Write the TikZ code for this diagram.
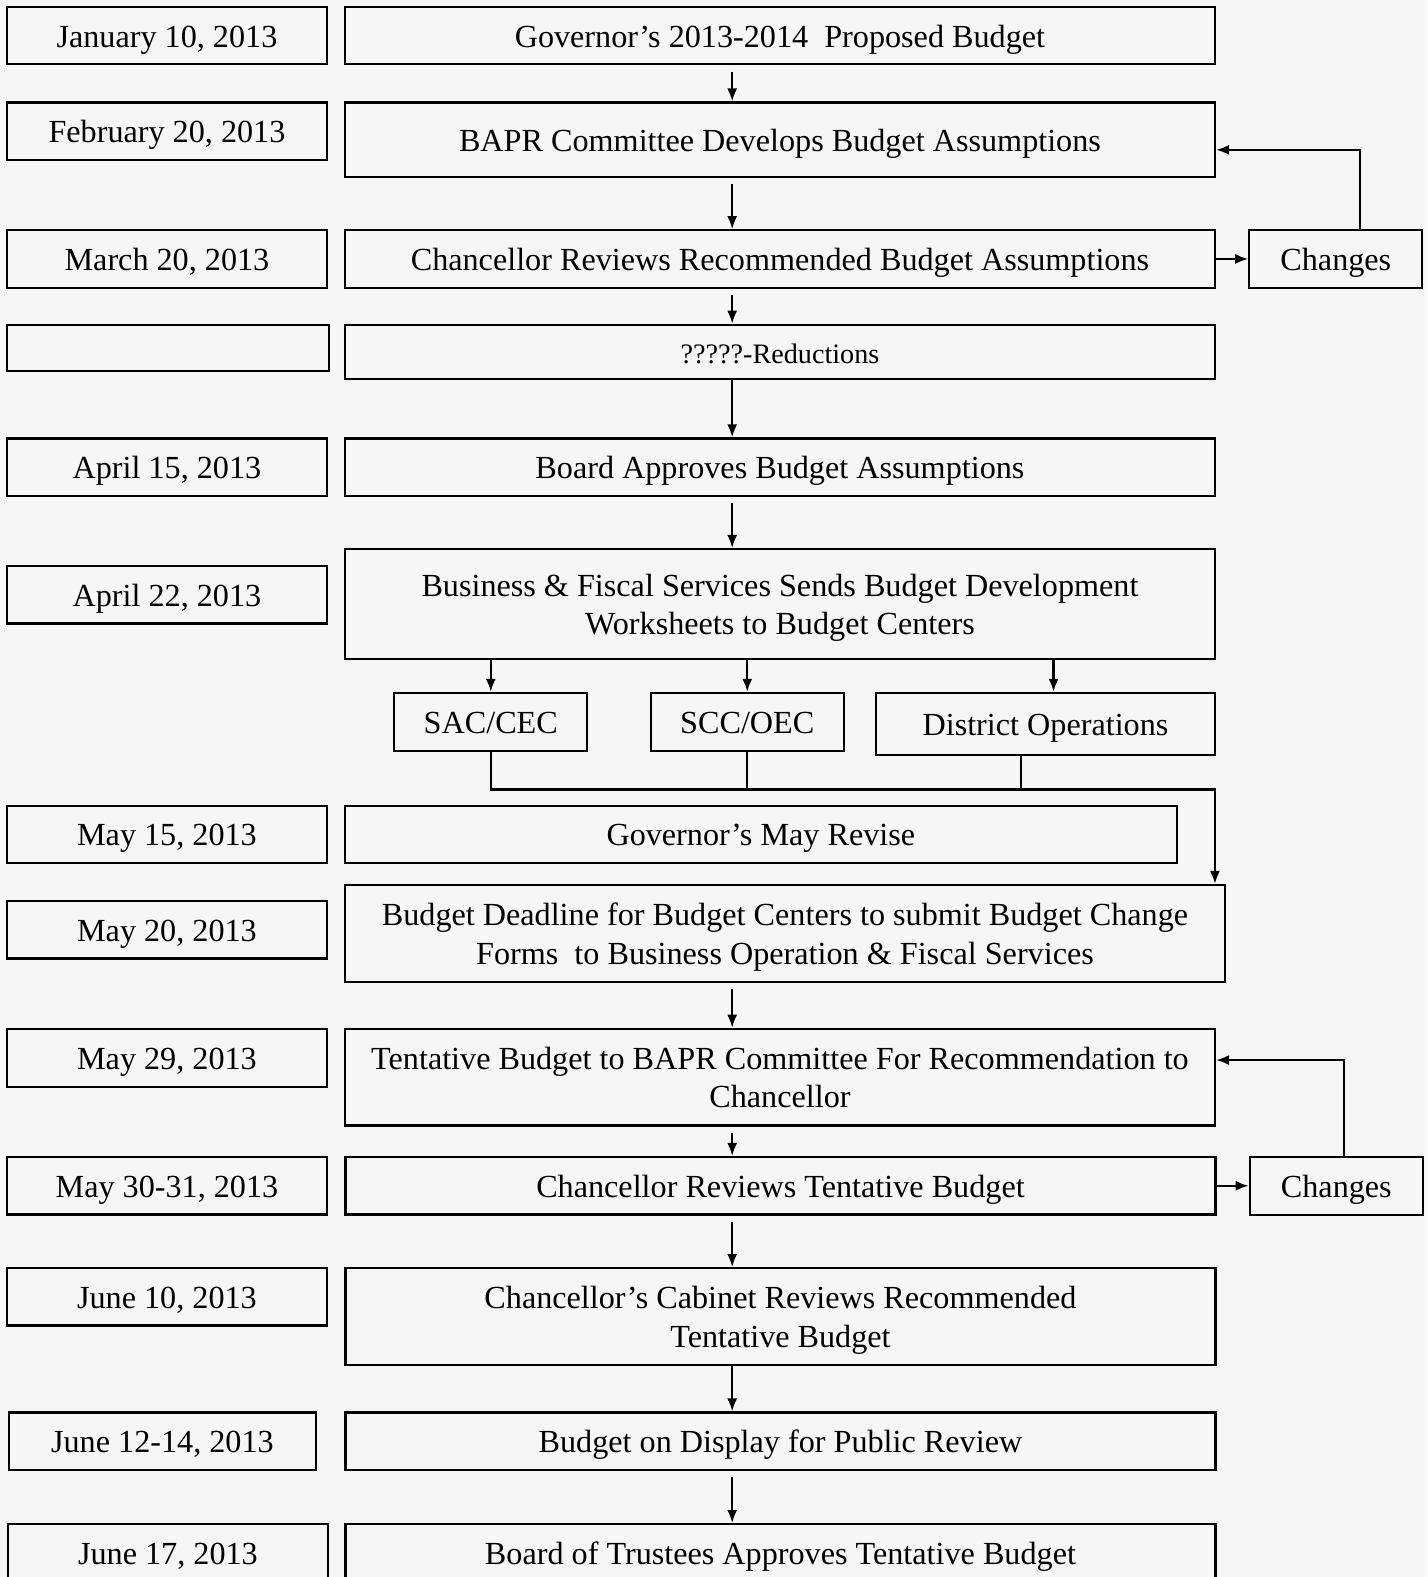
\documentclass[tikz,border=0pt]{standalone}
\usepackage{fontspec}
\setmainfont{Liberation Serif}
\usetikzlibrary{positioning,arrows.meta}
\definecolor{scanPaper}{RGB}{246,246,246}

\begin{document}
\begin{tikzpicture}[
    x=0.5pt, y=-0.5pt,
    line width=1.1pt,
    >={Latex[length=6.5pt,width=5pt]},
    box text/.style={inner sep=0pt, text height=13pt, text depth=1.5pt, font=\fontsize{16}{19}\selectfont},
    two lines/.style={text height=32pt},
    date box/.style={rectangle, draw, box text, minimum width=159pt, minimum height=28.5pt},
    stage box/.style={rectangle, draw, box text, align=center, minimum width=432.5pt, minimum height=28.5pt},
    center box/.style={rectangle, draw, box text, minimum width=96pt, minimum height=29pt},
    side box/.style={rectangle, draw, box text, minimum width=86pt, minimum height=29pt},
    flow/.style={->, shorten <=3pt}
]
  \fill[scanPaper, use as bounding box] (0,0) rectangle (1419,1568);
  \coordinate (spine) at (728,0);

  \node[date box] (jan10) at (166,35.5) {January 10, 2013};
  \node[stage box] (govbud) at (775.5,35.5) {Governor's 2013-2014\ \ Proposed Budget};

  \node[date box] (feb20) at (166,130.5) {February 20, 2013};
  \node[stage box, minimum height=37pt] (bapr) at (775.5,139) {BAPR Committee Develops Budget Assumptions};

  \node[date box] (mar20) at (166,257.5) {March 20, 2013};
  \node[stage box] (chanrev) at (775.5,257.5) {Chancellor Reviews Recommended Budget Assumptions};
  \node[side box] (changesA) [right=16pt of chanrev] {Changes};

  \node[date box, minimum width=160pt, minimum height=23pt] (blank) at (167,346) {};
  \node[stage box, minimum height=27pt, font=\fontsize{14}{17}\selectfont, text height=11.7pt, text depth=0pt] (reduce) at (775.5,350) {?????-Reductions};

  \node[date box] (apr15) at (166,464.5) {April 15, 2013};
  \node[stage box] (boardok) at (775.5,464.5) {Board Approves Budget Assumptions};

  \node[date box] (apr22) at (166,591.5) {April 22, 2013};
  \node[stage box, two lines, minimum height=54.5pt] (sheets) at (775.5,600.5) {Business \& Fiscal Services Sends Budget Development\\Worksheets to Budget Centers};

  \node[center box] (saccec) at (488,718) {SAC/CEC};
  \node[center box] (sccoec) at (743,718) {SCC/OEC};
  \node[center box, minimum width=168.5pt, minimum height=31pt] (distops) at (1039.5,720) {District Operations};

  \node[date box] (may15) at (166,829.5) {May 15, 2013};
  \node[stage box, minimum width=413.5pt] (mayrev) at (756.5,829.5) {Governor's May Revise};

  \node[date box] (may20) at (166,924.5) {May 20, 2013};
  \node[stage box, two lines, minimum width=437.5pt, minimum height=48pt] (deadline) at (780.5,928) {Budget Deadline for Budget Centers to submit Budget Change\\Forms\ \ to Business Operation \& Fiscal Services};

  \node[date box] (may29) at (166,1052) {May 29, 2013};
  \node[stage box, two lines, minimum height=48pt] (tentbud) at (775.5,1071) {Tentative Budget to BAPR Committee For Recommendation to\\Chancellor};

  \node[date box] (may30) at (166,1179) {May 30-31, 2013};
  \node[stage box] (chanten) at (776,1179) {Chancellor Reviews Tentative Budget};
  \node[side box] (changesB) [right=16pt of chanten] {Changes};

  \node[date box] (jun10) at (166,1289.5) {June 10, 2013};
  \node[stage box, two lines, minimum height=48pt] (cabinet) at (776,1309) {Chancellor's Cabinet Reviews Recommended\\Tentative Budget};

  \node[date box, minimum width=152.5pt] (jun12) at (161.5,1433) {June 12-14, 2013};
  \node[stage box] (display) at (776,1433) {Budget on Display for Public Review};

  \node[date box] (jun17) at (167,1544) {June 17, 2013};
  \node[stage box] (trustees) at (776,1544) {Board of Trustees Approves Tentative Budget};

  \draw[flow] (govbud.south -| spine) -- (bapr.north -| spine);
  \draw[flow] (bapr.south -| spine) -- (chanrev.north -| spine);
  \draw[flow] (chanrev.south -| spine) -- (reduce.north -| spine);
  \draw[->] (reduce.south -| spine) -- (boardok.north -| spine);
  \draw[flow] (boardok.south -| spine) -- (sheets.north -| spine);
  \draw[flow] (deadline.south -| spine) -- (tentbud.north -| spine);
  \draw[flow] (tentbud.south -| spine) -- (chanten.north -| spine);
  \draw[flow] (chanten.south -| spine) -- (cabinet.north -| spine);
  \draw[->] (cabinet.south -| spine) -- (display.north -| spine);
  \draw[flow] (display.south -| spine) -- (trustees.north -| spine);

  \coordinate (distin) at ([xshift=4pt]distops.north);
  \coordinate (distout) at ([xshift=-12pt]distops.south);
  \coordinate (bus) at (1208,785);
  \draw[->] (sheets.south -| saccec) -- (saccec);
  \draw[->] (sheets.south -| sccoec) -- (sccoec);
  \draw[->] (distin |- sheets.south) -- (distin);
  \draw[->] (saccec) |- (bus) -- (bus |- deadline.north);
  \draw (sccoec) -- (sccoec |- bus);
  \draw (distout) -- (distout |- bus);

  \draw[->] (chanrev) -- (changesA);
  \draw[->] ([xshift=12pt]changesA.north) |- ([yshift=-5pt]bapr.east);
  \draw[->] (chanten) -- (changesB);
  \draw[->] ([xshift=4pt]changesB.north) |- ([yshift=8.5pt]tentbud.east);
\end{tikzpicture}
\end{document}
